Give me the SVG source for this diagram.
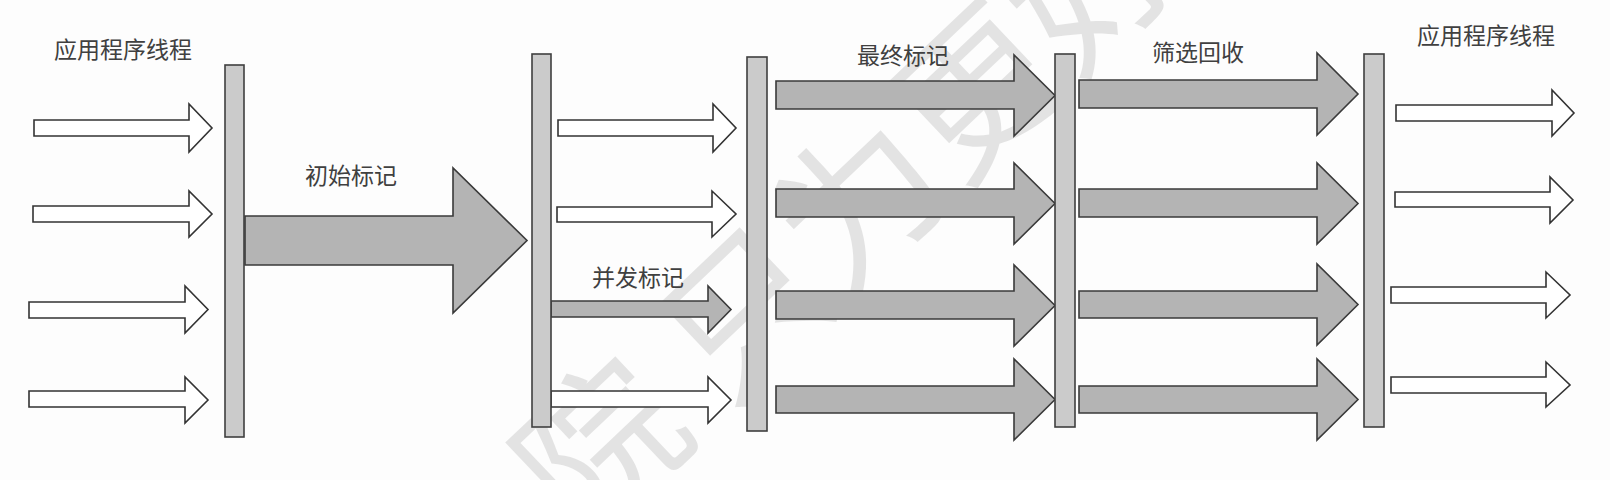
<svg xmlns="http://www.w3.org/2000/svg" width="1610" height="480" viewBox="0 0 1610 480">
<style>
.bar{fill:#cbcbcb;stroke:#3f3f3f;stroke-width:1.6}
.wa{fill:#ffffff;stroke:#333333;stroke-width:1.6;stroke-linejoin:miter}
.ga{fill:#b4b4b4;stroke:#3a3a3a;stroke-width:1.6;stroke-linejoin:miter}
.lbl{font-family:"Noto Sans CJK SC","Noto Sans",sans-serif;font-size:23px;fill:#404040}
.wm{font-family:"Noto Sans CJK SC",sans-serif;font-size:160px;fill:#000000;fill-opacity:0.1}
</style>
<rect x="0" y="0" width="1610" height="480" fill="#fdfdfd"/>
<g id="watermark">
<text class="wm" transform="translate(584,544) rotate(-43.5)">院 只为更好</text>
</g>
<g id="labels">
<text class="lbl" x="54" y="58">应用程序线程</text>
<text class="lbl" x="305" y="184">初始标记</text>
<text class="lbl" x="592" y="286">并发标记</text>
<text class="lbl" x="857" y="64">最终标记</text>
<text class="lbl" x="1152" y="61">筛选回收</text>
<text class="lbl" x="1417" y="44">应用程序线程</text>
</g>
<g id="connectors">
<polygon class="wa" points="34,120 189,120 189,104 212,128 189,152 189,136 34,136"/>
<polygon class="wa" points="33,206 189,206 189,191 212,214 189,237 189,222 33,222"/>
<polygon class="wa" points="29,302 185,302 185,286 208,309.5 185,333 185,318 29,318"/>
<polygon class="wa" points="29,391 185,391 185,377 208,400 185,423 185,407 29,407"/>
<polygon class="ga" points="245,216 453,216 453,168 527,240.5 453,313 453,265 245,265"/>
<polygon class="wa" points="558,120 713,120 713,104 736,128 713,152 713,136 558,136"/>
<polygon class="wa" points="557,207 712,207 712,191 736,214 712,237 712,222 557,222"/>
<polygon class="ga" points="551,301 708,301 708,286 731,309.5 708,333 708,317 551,317"/>
<polygon class="wa" points="551,391 708,391 708,377 731,400 708,423 708,407 551,407"/>
<polygon class="ga" points="776,81 1014,81 1014,55 1055,95.5 1014,136 1014,109 776,109"/>
<polygon class="ga" points="776,189 1014,189 1014,163 1055,203.5 1014,244 1014,217 776,217"/>
<polygon class="ga" points="776,291 1014,291 1014,265 1055,305.5 1014,346 1014,319 776,319"/>
<polygon class="ga" points="776,386 1014,386 1014,359 1055,399.5 1014,440 1014,413 776,413"/>
<polygon class="ga" points="1079,80 1317,80 1317,53 1358,94 1317,135 1317,108 1079,108"/>
<polygon class="ga" points="1079,189 1317,189 1317,163 1358,203.5 1317,244 1317,217 1079,217"/>
<polygon class="ga" points="1079,291 1317,291 1317,264 1358,304.5 1317,345 1317,318 1079,318"/>
<polygon class="ga" points="1079,386 1317,386 1317,359 1358,399.5 1317,440 1317,413 1079,413"/>
<polygon class="wa" points="1396,105 1552,105 1552,90 1574,113 1552,136 1552,121 1396,121"/>
<polygon class="wa" points="1395,192 1550,192 1550,177 1573,200 1550,223 1550,207 1395,207"/>
<polygon class="wa" points="1391,287 1546,287 1546,272 1570,295 1546,318 1546,303 1391,303"/>
<polygon class="wa" points="1391,377 1546,377 1546,362 1570,385 1546,407 1546,393 1391,393"/>
</g>
<g id="bar1"><rect class="bar" x="225" y="65" width="19" height="372"/></g>
<g id="bar2"><rect class="bar" x="532" y="54" width="19" height="373"/></g>
<g id="bar3"><rect class="bar" x="747" y="57" width="20" height="374"/></g>
<g id="bar4"><rect class="bar" x="1055" y="54" width="20" height="373"/></g>
<g id="bar5"><rect class="bar" x="1364" y="54" width="20" height="373"/></g>
</svg>
